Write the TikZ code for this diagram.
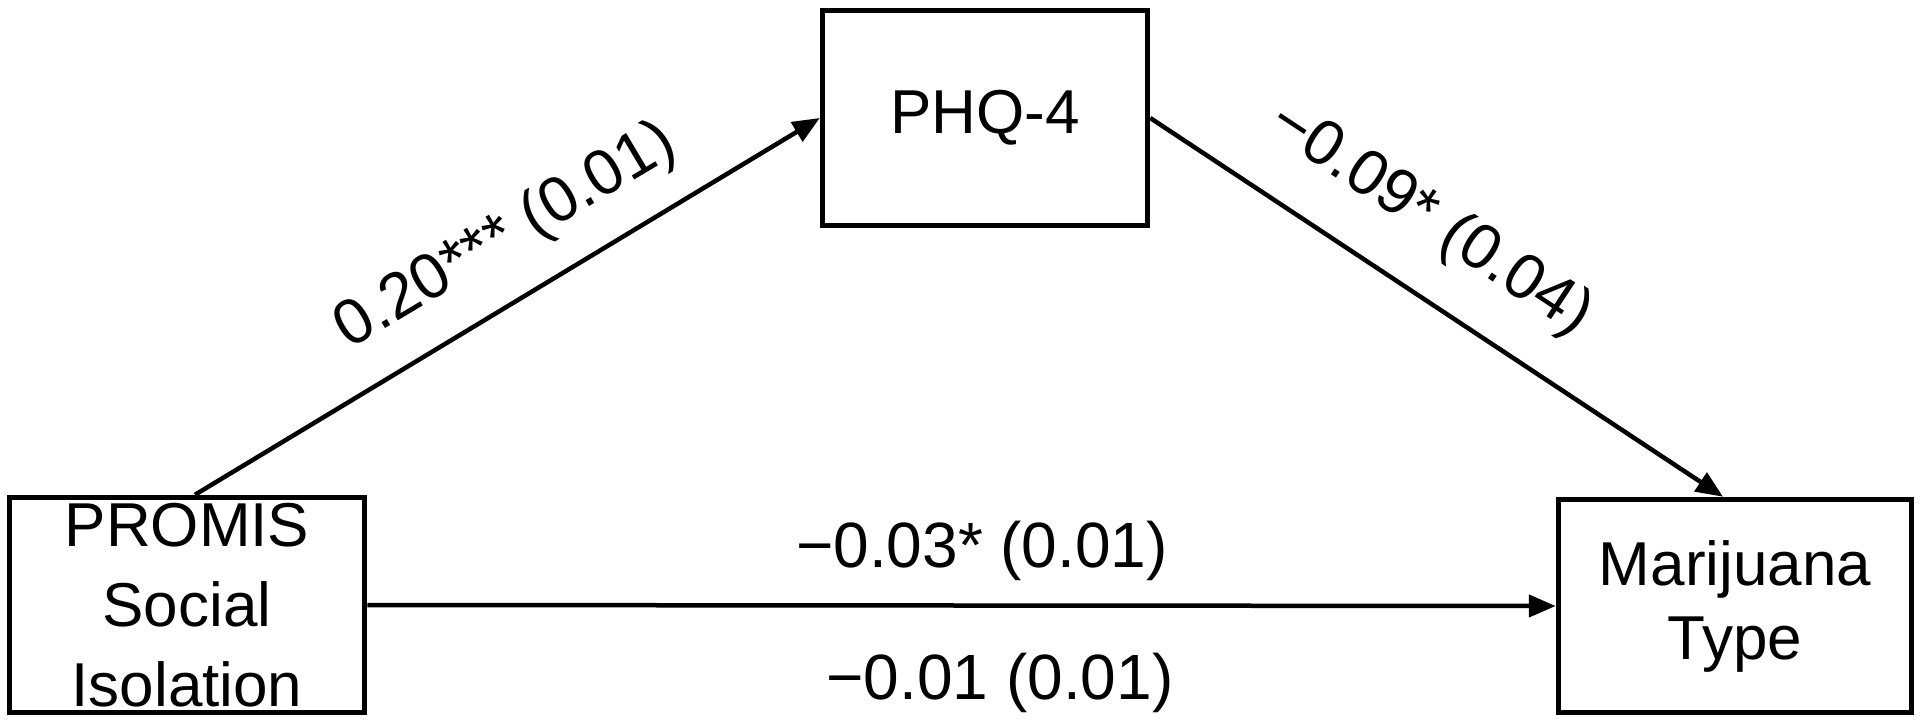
\documentclass[tikz,border=0pt]{standalone}
\usepackage{fontspec}
\setmainfont{Liberation Sans}
\usetikzlibrary{arrows.meta}
\begin{document}
\begin{tikzpicture}[x=1pt,y=-1pt,
  varbox/.style={draw=black, line width=5.5pt, inner sep=0pt, align=center,
    font=\fontsize{62}{80}\selectfont},
  path/.style={line width=4.5pt, -{Triangle[length=27pt,width=22pt]}},
  lbl/.style={inner sep=0pt, font=\fontsize{64}{76}\selectfont}]
\useasboundingbox[fill=white] (0,0) rectangle (1922,725);
\node[varbox, minimum width=355pt, minimum height=215pt] (sis) at (187,605) {PROMIS\\Social\\Isolation};
\node[varbox, minimum width=325pt, minimum height=215pt, font=\fontsize{62}{74}\selectfont] (phq) at (985,118) {PHQ-4};
\node[varbox, minimum width=353pt, minimum height=213pt, font=\fontsize{62}{74}\selectfont] (mt) at (1735,606) {Marijuana\\Type};
\draw[path] ([xshift=8pt]sis.north) -- (phq.west);
\draw[path] (phq.east) -- ([xshift=-12pt]mt.north);
\draw[path] (sis.east) -- (mt.west);
\node[lbl, rotate=30.8] (l1) at (506,237) {0.20*** (0.01)};
\node[lbl, rotate=-33.5] (l2) at (1430,220) {−0.09* (0.04)};
\node[lbl] (l3) at (982,551) {−0.03* (0.01)};
\node[lbl] (l4) at (1000,683) {−0.01 (0.01)};
\end{tikzpicture}
\end{document}
